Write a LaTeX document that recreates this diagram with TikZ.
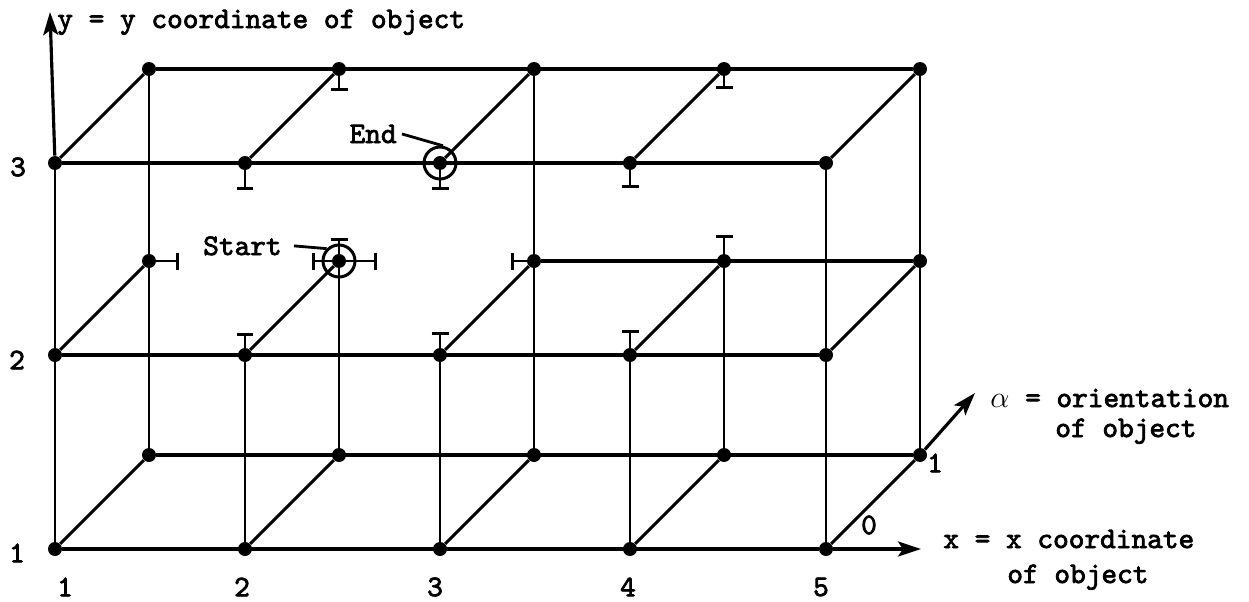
\documentclass[tikz,border=0pt]{standalone}
\usepackage{fontspec}
\newfontfamily\twfont{lmmono10-regular}[Extension=.otf, FakeBold=2.5]
\usetikzlibrary{arrows.meta}

\begin{document}
\begin{tikzpicture}[x=0.02cm, y=-0.02cm,
    every node/.style={font=\twfont\fontsize{17}{20}\selectfont, inner sep=0pt},
    dot/.style={circle, fill=black, minimum size=0.28cm},
    link/.style={line width=1.8pt},
    post/.style={line width=1.3pt},
    stub/.style={line width=1.5pt, -{Bar[width=0.34cm, line width=1.8pt]}},
    ring/.style={circle, draw, line width=1.7pt, minimum size=0.64cm},
    axisline/.style={line width=1.8pt, -{Stealth[length=0.46cm, width=0.3cm, inset=0.1cm]}},
    leader/.style={line width=1.6pt}]
\useasboundingbox (0,0) rectangle (1249,602);
% grid points, alpha = 0 in front, alpha = 1 behind
\foreach \i/\px in {1/55,2/245,3/440,4/630,5/826}
    \foreach \j/\py in {1/549,2/355,3/163} {
        \node[dot] (n\i\j0) at (\px,\py) {};
        \node[dot] (n\i\j1) at ({\px+94},{\py-94}) {};
    }
% alpha links
\foreach \i in {1,...,5}
    \foreach \j in {1,2,3}
        \draw[link] (n\i\j0) -- (n\i\j1);
% x links
\foreach \j in {1,2,3}
    \draw[link] (n1\j0) -- (n5\j0);
\draw[link] (n111) -- (n511);
\draw[link] (n131) -- (n531);
\draw[link] (n321) -- (n521);
% y links
\foreach \i in {1,5}
    \draw[post] (n\i10) -- (n\i30);
\foreach \i in {2,3,4}
    \draw[post] (n\i10) -- (n\i20);
\foreach \i in {1,3,5}
    \draw[post] (n\i11) -- (n\i31);
\foreach \i in {2,4}
    \draw[post] (n\i11) -- (n\i21);
% blocked moves
\foreach \n/\dx/\dy/\t in {230/0/27/a, 330/0/27/b, 430/0/25/c, 231/0/22/d,
        431/0/20/e, 220/0/-22/f, 320/0/-23/g, 420/0/-25/h, 121/30/0/i,
        321/-23/0/j, 421/0/-26/k, 221/0/-23/l, 221/-27/0/m, 221/38/0/o} {
    \coordinate (t\t) at ([shift={(\dx,\dy)}]n\n.center);
    \draw[stub] (n\n) -- (t\t);
}
% start and end
\node[ring] (startc) at (n221) {};
\node[ring] (endc) at (n330) {};
\node[anchor=base east] (startl) at (282,255) {Start};
\node[anchor=base east] (endl) at (397,143) {End};
\draw[leader] ([xshift=0.24cm]startl.east) -- (startc.135);
\draw[leader] ([xshift=0.1cm]endl.east) -- (endc.80);
% axes
\coordinate (ytip) at (50,12);
\coordinate (xtip) at (921,549);
\coordinate (atip) at (975,393);
\draw[axisline] (n130) -- (ytip);
\draw[axisline] (n510) -- (xtip);
\draw[axisline] (n511) -- (atip);
\node[anchor=base west] (ylbl) at (57,28) {y = y coordinate of object};
\node[anchor=base west] (albl) at (990,407) {$\alpha$ = orientation};
\node[anchor=base west] (albl2) at (1055,437) {of object};
\node[anchor=base west] (xlbl) at (943,548) {x = x coordinate};
\node[anchor=base west] (xlbl2) at (1007,583) {of object};
% tick labels
\node (y1) at (17,553) {1};
\node (y2) at (17,360) {2};
\node (y3) at (18,167) {3};
\foreach \i/\px in {1/65,2/242,3/435,4/628,5/821}
    \node (x\i) at (\px,587) {\i};
\node (a0) at (869,525) {0};
\node (a1) at (935,463) {1};
\end{tikzpicture}
\end{document}
